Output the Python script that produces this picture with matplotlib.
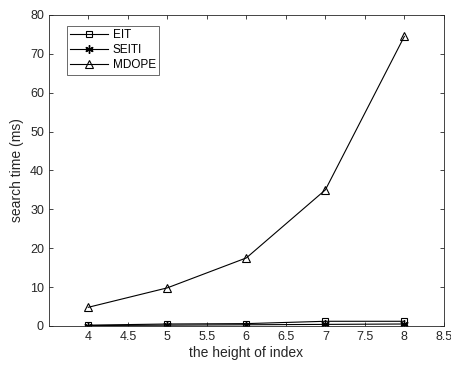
import matplotlib
matplotlib.use("Agg")
import matplotlib.pyplot as plt

# data
heights = [4, 5, 6, 7, 8]
eit = [0.2, 0.5, 0.6, 1.2, 1.2]
seiti = [0.1, 0.2, 0.3, 0.4, 0.5]
mdope = [4.8, 9.8, 17.5, 35.0, 74.5]

plt.rcParams['font.family'] = ['Liberation Sans', 'DejaVu Sans']

fig = plt.figure(figsize=(4.52, 3.65), dpi=100)
ax = fig.add_axes([0.108, 0.107, 0.874, 0.852])

ax.plot(heights, eit, color='black', lw=0.8, marker='s', ms=5, mfc='none', mew=0.8, label='EIT')
ax.plot(heights, seiti, color='black', lw=0.8, marker=(6, 2, 0), ms=6, mew=1.0, label='SEITI')
ax.plot(heights, mdope, color='black', lw=0.8, marker='^', ms=6, mfc='none', mew=0.8, label='MDOPE')

ax.set_xlim(3.5, 8.5)
ax.set_ylim(0, 80)
ax.set_xticks([4, 4.5, 5, 5.5, 6, 6.5, 7, 7.5, 8, 8.5])
ax.set_xticklabels(['4', '4.5', '5', '5.5', '6', '6.5', '7', '7.5', '8', '8.5'])
ax.set_yticks(range(0, 81, 10))
ax.tick_params(direction='in', top=True, right=True, labelsize=9, colors='#262626', length=3, width=0.6)
for s in ax.spines.values():
    s.set_color('#262626')
    s.set_linewidth(0.6)

ax.set_xlabel('the height of index', fontsize=10, color='#262626', labelpad=2)
ax.set_ylabel('search time (ms)', fontsize=10, color='#262626', labelpad=4)

leg = ax.legend(loc='upper left', bbox_to_anchor=(0.03, 0.985), fontsize=8.5, frameon=True,
                fancybox=False, edgecolor='#262626', handlelength=3.2, borderpad=0.3,
                labelspacing=0.25, handletextpad=0.4)
leg.get_frame().set_linewidth(0.6)

fig.savefig('out.png', dpi=100)
